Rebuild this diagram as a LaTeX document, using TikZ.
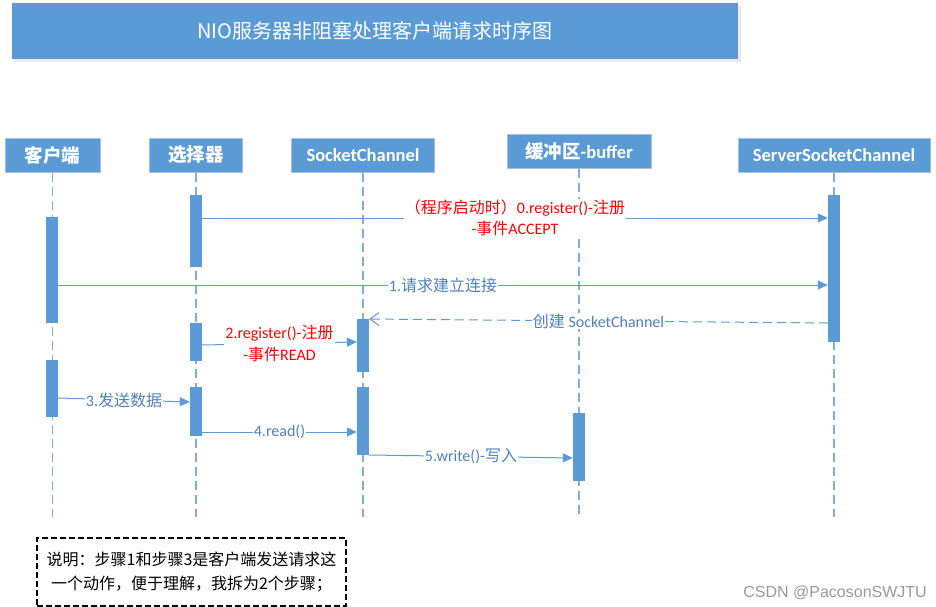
\documentclass[tikz,border=0pt]{standalone}
\usepackage{fontspec}
\setmainfont{Carlito}
\newfontfamily\cjk{Noto Sans CJK SC}
\newfontfamily\wmfont{Liberation Sans}
\usetikzlibrary{arrows.meta,calc}
\definecolor{boxblue}{HTML}{5B9BD5}
\definecolor{boxedge}{HTML}{A3C1E2}
\definecolor{lifeblue}{HTML}{7FAEDC}
\definecolor{msgtext}{HTML}{4F81BD}
\definecolor{wmgray}{HTML}{999999}
\newcommand{\zh}[1]{{\cjk #1}}
\begin{document}
\begin{tikzpicture}[x=1pt,y=-1pt,
  header/.style={rectangle, fill=boxblue, draw=boxedge, line width=1pt, minimum height=34pt, text=white, font=\fontsize{18.5}{20}\selectfont\bfseries, inner sep=0pt},
  actbar/.style={rectangle, fill=boxblue, draw=none, minimum width=12pt, inner sep=0pt},
  lifeline/.style={draw=lifeblue, line width=1.5pt, dash pattern=on 9pt off 5pt},
  msg/.style={draw=boxblue, line width=1pt, -{Triangle[length=10pt,width=9pt]}},
  reply/.style={draw=boxblue, line width=1pt, dash pattern=on 9pt off 5pt, -{Straight Barb[length=9pt,width=13pt]}},
  msglabel/.style={fill=white, text=msgtext, font=\fontsize{16}{18}\selectfont, inner sep=1pt},
  redlabel/.style={fill=white, text=red, font=\fontsize{16}{21.5}\selectfont, inner sep=1pt, align=center},
]
\useasboundingbox (0,0) rectangle (936,607);

% title
\fill[black!8] (14,6) rectangle (741,62);
\node[fill=boxblue, minimum width=726pt, minimum height=56pt, inner sep=0pt, text=white, font=\cjk\fontsize{20}{24}\selectfont] (title) at (375,31) {NIO服务器非阻塞处理客户端请求时序图};

% headers
\node[header, minimum width=95pt]  (hc)   at (52.5,155) {\zh{客户端}};
\node[header, minimum width=93pt]  (hs)   at (196,155)  {\zh{选择器}};
\node[header, minimum width=143pt] (hsc)  at (363,155)  {SocketChannel};
\node[header, minimum width=144pt] (hb)   at (579,151)  {\zh{缓冲区}-buffer};
\node[header, minimum width=192pt] (hssc) at (834,155.5) {ServerSocketChannel};

% lifelines
\coordinate (endy) at (0,517);
\draw[lifeline] (hc.south)   -- (hc.south |- endy);
\draw[lifeline] (hs.south)   -- (hs.south |- endy);
\draw[lifeline] (hsc.south)  -- (hsc.south |- endy);
\draw[lifeline] (hb.south)   -- (hb.south |- endy);
\draw[lifeline] (hssc.south) -- (hssc.south |- endy);

% activation bars
\node[actbar, minimum height=106pt] (c1) at (52,270) {};
\node[actbar, minimum height=57pt]  (c2) at (52,388.5) {};
\node[actbar, minimum height=72pt]  (s1) at (196,231) {};
\node[actbar, minimum height=38pt]  (s2) at (196,342) {};
\node[actbar, minimum height=49pt]  (s3) at (196,411.5) {};
\node[actbar, minimum height=53pt]  (k1) at (363,345.5) {};
\node[actbar, minimum height=68pt]  (k2) at (363,421) {};
\node[actbar, minimum height=68pt]  (b1) at (579,447) {};
\node[actbar, minimum height=147pt] (v1) at (834,268.5) {};

% message y-levels
\coordinate (m0) at (0,218);
\coordinate (m1) at (0,285);
\coordinate (mra) at (0,323);
\coordinate (mrb) at (0,319);
\coordinate (m2a) at (0,345);
\coordinate (m2b) at (0,342);
\coordinate (m3a) at (0,398);
\coordinate (m3b) at (0,402);
\coordinate (m4) at (0,432);
\coordinate (m5a) at (0,455);
\coordinate (m5b) at (0,458);

% messages
\draw[msg] (s1.east |- m0) -- node[redlabel] (l0) {\zh{（程序启动时）}0.register()-\zh{注册}\\-\zh{事件}ACCEPT} (v1.west |- m0);
\draw[msg] (c1.east |- m1) -- node[msglabel] (l1) {1.\zh{请求建立连接}} (v1.west |- m1);
\draw[reply] (v1.west |- mra) -- node[msglabel] (lr) {\zh{创建} SocketChannel} (k1.east |- mrb);
\draw[msg] (s2.east |- m2a) -- node[redlabel] (l2) {2.register()-\zh{注册}\\-\zh{事件}READ} (k1.west |- m2b);
\draw[msg] (c2.east |- m3a) -- node[msglabel] (l3) {3.\zh{发送数据}} (s3.west |- m3b);
\draw[msg] (s3.east |- m4) -- node[msglabel] (l4) {4.read()} (k2.west |- m4);
\draw[msg] (k2.east |- m5a) -- node[msglabel] (l5) {5.write()-\zh{写入}} (b1.west |- m5b);

% note
\node[draw=black, line width=1.2pt, dash pattern=on 6pt off 3pt, minimum width=309pt, minimum height=68pt, align=center, inner sep=0pt, font=\cjk\fontsize{16}{24}\selectfont] (note) at (191.5,572) {说明：步骤1和步骤3是客户端发送请求这\\一个动作，便于理解，我拆为2个步骤；};

% watermark
\node[anchor=base east, inner sep=0pt, text=wmgray, font=\wmfont\fontsize{16}{18}\selectfont] (wm) at (927,597) {CSDN @PacosonSWJTU};
\end{tikzpicture}
\end{document}
